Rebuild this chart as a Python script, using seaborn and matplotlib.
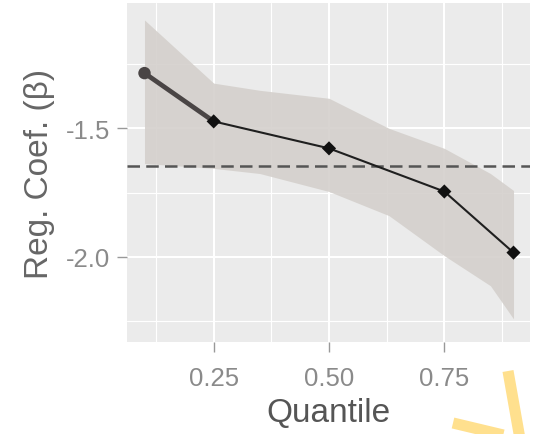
import matplotlib
matplotlib.use("Agg")
import matplotlib.pyplot as plt
from matplotlib.lines import Line2D
import seaborn as sns
import pandas as pd

# Quantile regression coefficients
quantiles = [0.1, 0.25, 0.5, 0.75, 0.9]
coef = [-1.285, -1.473, -1.578, -1.746, -1.984]

# Confidence band
band_q = [0.1, 0.25, 0.35, 0.5, 0.63, 0.75, 0.85, 0.9]
band_upper = [-1.078, -1.324, -1.352, -1.383, -1.500, -1.578, -1.676, -1.742]
band_lower = [-1.637, -1.656, -1.676, -1.746, -1.840, -1.996, -2.113, -2.242]

# OLS reference coefficient
ols_coef = -1.645

x_ticks = [0.25, 0.50, 0.75]
x_tick_labels = ["0.25", "0.50", "0.75"]
y_ticks = [-1.5, -2.0]
y_tick_labels = ["-1.5", "-2.0"]

sns.set_theme(style="darkgrid", rc={
    "axes.facecolor": "#ebebeb",
    "grid.color": "white",
    "axes.edgecolor": "none",
})
plt.rcParams["font.family"] = ["Liberation Sans", "DejaVu Sans"]

df = pd.DataFrame({"q": quantiles, "b": coef})

fig = plt.figure(figsize=(5.38, 4.35), dpi=100)
ax = fig.add_axes([0.236, 0.2115, 0.749, 0.7793])

ax.set_xlim(0.062, 0.9356)
ax.set_ylim(-2.332, -1.012)

# grid: major + minor, ggplot style
ax.set_xticks(x_ticks)
ax.set_yticks(y_ticks)
ax.set_xticks([0.125, 0.375, 0.625, 0.875], minor=True)
ax.set_yticks([-1.25, -1.75, -2.25], minor=True)
ax.grid(which="major", color="white", linewidth=1.5)
ax.grid(which="minor", color="white", linewidth=0.8)
ax.set_axisbelow(True)

ax.fill_between(band_q, band_lower, band_upper, color="#d4d0cc", alpha=0.9,
                linewidth=0, zorder=2)

ax.axhline(ols_coef, color="#555555", linewidth=1.8, linestyle=(0, (5, 2.5)),
           zorder=3)

# first segment (lowest quantile) drawn heavier
sns.lineplot(data=df.iloc[:2], x="q", y="b", ax=ax, color="#4a4545",
             linewidth=3.4, zorder=4)
sns.lineplot(data=df.iloc[1:], x="q", y="b", ax=ax, color="#1f1f1f",
             linewidth=1.5, zorder=4)
sns.scatterplot(data=df.iloc[:1], x="q", y="b", ax=ax, color="#4a4545",
                marker="o", s=80, edgecolor="none", zorder=5)
sns.scatterplot(data=df.iloc[1:], x="q", y="b", ax=ax, color="#111111",
                marker="D", s=52, edgecolor="none", zorder=5)

ax.set_xticklabels(x_tick_labels)
ax.set_yticklabels(y_tick_labels)
ax.tick_params(axis="both", which="major", labelsize=18.5, labelcolor="#8a8a8a",
               color="#999999", length=7, width=1.0)
ax.tick_params(axis="x", which="major", pad=10, bottom=True)
ax.tick_params(axis="y", which="major", pad=5, left=True)
ax.tick_params(which="minor", length=0)

ax.set_xlabel("Quantile", fontsize=24, color="#555555", labelpad=5)
ax.set_ylabel("Reg. Coef. (β)", fontsize=24, color="#666666", labelpad=8)

# yellow corner marker
fig.add_artist(Line2D([508 / 538, 520 / 538, 453 / 538],
                      [1 - 372 / 435, 1 - 440 / 435, 1 - 424 / 435],
                      transform=fig.transFigure, color="#ffe08e",
                      linewidth=8, solid_joinstyle="miter",
                      solid_capstyle="butt"))

fig.savefig("out.png", dpi=100, facecolor="white")
